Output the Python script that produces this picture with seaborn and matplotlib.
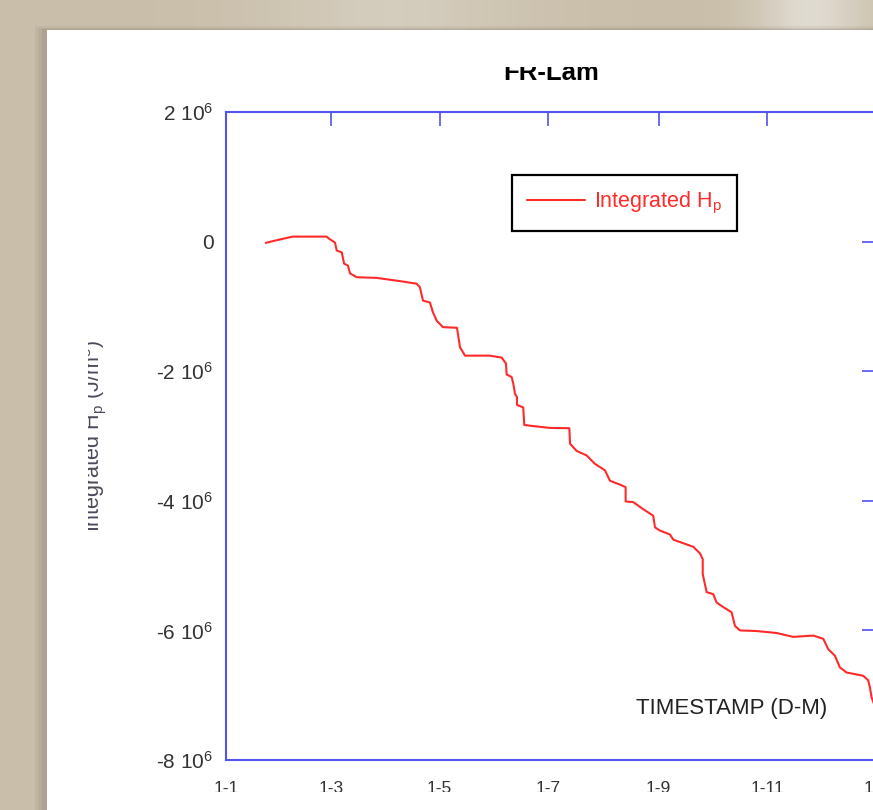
import numpy as np
import matplotlib
matplotlib.use('Agg')
import matplotlib.pyplot as plt
from matplotlib.patches import Rectangle
from matplotlib.transforms import Bbox, TransformedBbox
import seaborn as sns

# --- data ---
# day of year (0 = 1 Jan) and integrated Hp in J/m^3
days = [22.3, 27.5, 37.4, 56.5, 57.8, 61.2, 62.2, 65.0, 66.3, 68.5, 69.6, 73.4,
        84.6, 97.7, 107.1, 108.9, 110.6, 114.5, 116.2, 118.3, 121.8, 129.7, 131.4,
        134.2, 148.2, 154.8, 157.2, 157.6, 160.4, 161.3, 162.3, 163.4, 163.4, 166.9,
        167.5, 173.5, 181.9, 192.8, 193.2, 196.9, 202.5, 207.2, 212.8, 215.6, 221.2,
        224.4, 224.4, 228.7, 234.3, 239.9, 240.9, 243.7, 249.3, 251.2, 262.4, 266.1,
        267.7, 267.7, 269.9, 273.6, 275.5, 279.2, 283.9, 285.8, 288.6, 298.0, 309.2,
        318.5, 329.8, 335.4, 338.2, 341.9, 344.7, 348.5, 357.8, 360.6, 361.6, 362.5,
        363.8]
hp = [-0.02, 0.015, 0.077, 0.077, 0.046, -0.015, -0.139, -0.165, -0.34, -0.37, -0.49,
      -0.55, -0.56, -0.61, -0.65, -0.705, -0.91, -0.94, -1.09, -1.22, -1.32, -1.33,
      -1.63, -1.76, -1.76, -1.79, -1.88, -2.05, -2.09, -2.19, -2.35, -2.40, -2.52,
      -2.56, -2.83, -2.85, -2.875, -2.88, -3.12, -3.23, -3.30, -3.43, -3.53, -3.69,
      -3.75, -3.79, -4.01, -4.02, -4.13, -4.23, -4.41, -4.46, -4.52, -4.60, -4.71,
      -4.81, -4.90, -5.13, -5.41, -5.44, -5.57, -5.64, -5.72, -5.93, -6.00, -6.01,
      -6.04, -6.10, -6.08, -6.13, -6.29, -6.39, -6.57, -6.65, -6.70, -6.77, -6.88,
      -7.03, -7.13]
hp = [v * 1e6 for v in hp]

xtick_pos = [0, 59, 120, 181, 243, 304, 365]
xtick_labels = ['1-1', '1-3', '1-5', '1-7', '1-9', '1-11', '1-1']
ytick_pos = [2e6, 0, -2e6, -4e6, -6e6, -8e6]
ytick_labels = ['2 10$^6$', '0', '-2 10$^6$', '-4 10$^6$', '-6 10$^6$', '-8 10$^6$']

sns.set_style('white')
plt.rcParams['font.family'] = ['Liberation Sans', 'DejaVu Sans']
plt.rcParams['mathtext.fontset'] = 'custom'
plt.rcParams['mathtext.rm'] = 'Liberation Sans'
plt.rcParams['mathtext.it'] = 'Liberation Sans:italic'
plt.rcParams['mathtext.default'] = 'regular'

blue = '#5252ee'
red = '#ff2a2a'
txt = '#333333'

fig = plt.figure(figsize=(8.73, 8.10), dpi=100)
fig.patch.set_facecolor('#c9bca3')

# beige backdrop with soft light bands
bg = fig.add_axes([0, 0, 1, 1], zorder=-10)
xx = np.linspace(0, 1, 400)
band = 0.55 + 0.25 * np.exp(-((xx - 0.93) / 0.06) ** 2) + 0.12 * np.exp(-((xx - 0.45) / 0.15) ** 2)
img = np.tile(band, (50, 1))
bg.imshow(img, cmap=sns.light_palette('#b3a384', as_cmap=True, reverse=True),
          vmin=0.3, vmax=1.0, aspect='auto', extent=[0, 1, 0, 1])
bg.set_axis_off()

# paper sheet with shadow
for i, a in enumerate([0.08, 0.10, 0.14]):
    fig.patches.append(Rectangle((0.040 + i * 0.004, 0.0), 1.0, 0.968 - i * 0.002,
                                 transform=fig.transFigure, facecolor='#6d6252',
                                 alpha=a, edgecolor='none', zorder=-5))
fig.patches.append(Rectangle((0.054, 0.0), 1.0, 0.963, transform=fig.transFigure,
                             facecolor='white', edgecolor='none', zorder=-4))

ax = fig.add_axes([226 / 873, 50 / 810, 650 / 873, 648 / 810])
ax.set_facecolor('none')
sns.lineplot(x=days, y=hp, ax=ax, color=red, linewidth=1.5, sort=False,
             estimator=None, label='Integrated H$_p$')

ax.set_xlim(0, 365)
ax.set_ylim(-8e6, 2e6)
ax.set_xticks(xtick_pos)
ax.set_xticklabels(xtick_labels)
ax.set_yticks(ytick_pos)
ax.set_yticklabels(ytick_labels)
ax.tick_params(axis='both', direction='in', length=10, width=1.2, color=blue,
               labelcolor=txt, top=True, right=True)
ax.tick_params(axis='x', pad=15, labelsize=12.5)
ax.tick_params(axis='y', pad=9, labelsize=15)
for s in ax.spines.values():
    s.set_color(blue)
    s.set_linewidth(1.5)
ax.set_xlabel('')
ax.set_ylabel('')

# bottom of the x tick labels is cut in the source
xclip = TransformedBbox(Bbox([[0, 1 - 792 / 810], [1, 1]]), fig.transFigure)
for lbl in ax.get_xticklabels():
    lbl.set_clip_box(xclip)
    lbl.set_clip_on(True)

ax.text(0.778, 0.080, 'TIMESTAMP (D-M)', transform=ax.transAxes, ha='center',
        va='center', fontsize=16, color='#222222')

leg = ax.legend(loc='upper left', bbox_to_anchor=(0.44, 0.9028), borderaxespad=0,
                frameon=True, fancybox=False, framealpha=1, edgecolor='black',
                fontsize=15.5, labelcolor='linecolor', handlelength=2.7,
                handletextpad=0.4, borderpad=0.7)
leg.get_frame().set_linewidth(1.6)

# title, top part hidden as in the source
t = fig.text(551 / 873, 1 - 80 / 810, 'FR-Lam', ha='center', va='baseline',
             fontsize=18.5, fontweight='bold', color='black')
t.set_clip_box(TransformedBbox(Bbox([[0, 0], [1, 1 - 67 / 810]]), fig.transFigure))
t.set_clip_on(True)

# y label, left part hidden as in the source
yl = fig.text(99 / 873, 1 - 436 / 810, 'Integrated H$_p$ (J/m$^3$)', rotation=90,
              ha='center', va='baseline', rotation_mode='anchor', fontsize=15.5,
              color='#4a4a5a')
yl.set_clip_box(TransformedBbox(Bbox([[88 / 873, 0], [1, 1]]), fig.transFigure))
yl.set_clip_on(True)

plt.savefig('out.png', dpi=100, facecolor=fig.get_facecolor())
plt.close()
